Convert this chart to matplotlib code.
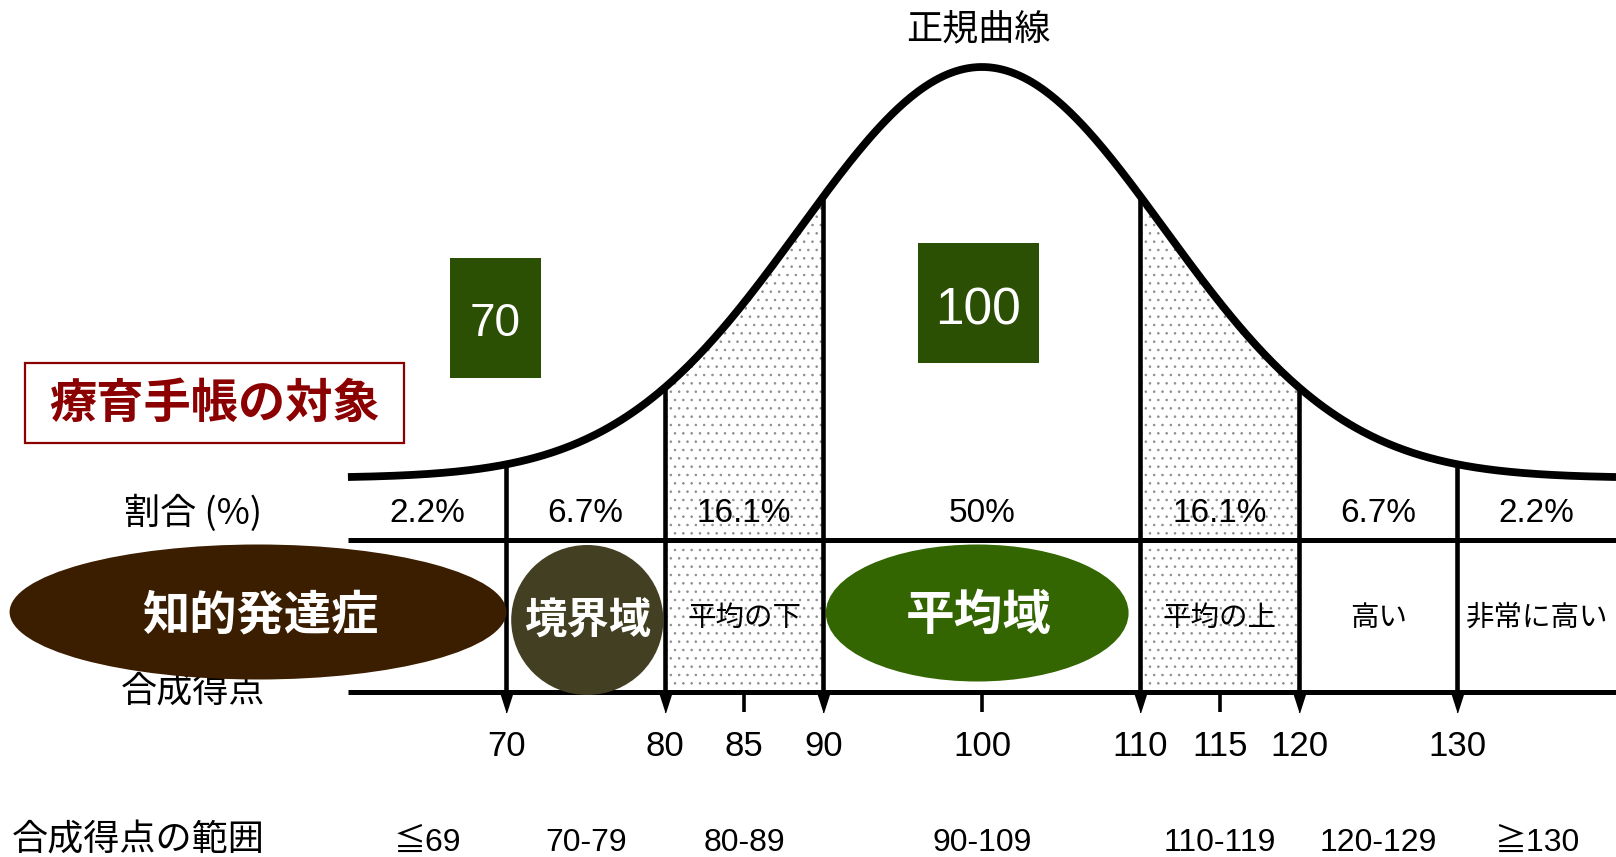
import numpy as np
import matplotlib
matplotlib.use("Agg")
import matplotlib.pyplot as plt
from matplotlib.patches import Ellipse, Rectangle

plt.rcParams['font.family'] = ['Noto Sans CJK JP', 'DejaVu Sans']
plt.rcParams['hatch.linewidth'] = 0.6

JP = ['Noto Sans CJK JP', 'DejaVu Sans']
NUM = ['Liberation Sans', 'Noto Sans CJK JP', 'DejaVu Sans']

# composite score scale
cut_scores = [70, 80, 90, 110, 120, 130]
minor_ticks = [85, 100, 115]
tick_scores = [70, 80, 85, 90, 100, 110, 115, 120, 130]

# bands between the cut scores
band_centers = [65, 75, 85, 100, 115, 125, 135]
percent_labels = ['2.2%', '6.7%', '16.1%', '50%', '16.1%', '6.7%', '2.2%']
class_labels = ['', '', '平均の下', '', '平均の上', '高い', '非常に高い']
range_labels = ['≦69', '70-79', '80-89', '90-109', '110-119', '120-129', '≧130']
stippled_bands = [(80, 90), (110, 120)]

# drawn normal curve
MEAN = 100
SD = 11.5
SCORE_MIN, SCORE_MAX = 60, 140

# vertical layout (rows, top to bottom)
CURVE_BASE, CURVE_PEAK = 478, 67
ROW_TOP = 540
ROW_BOTTOM = 692


def curve_y(x):
    return CURVE_BASE - (CURVE_BASE - CURVE_PEAK) * np.exp(-(x - MEAN) ** 2 / (2 * SD ** 2))


fig = plt.figure(figsize=(16.16, 8.57), dpi=100)
ax = fig.add_axes([0, 0, 1, 1])
ax.set_xlim(38.05, 140.0)
ax.set_ylim(857, 0)
ax.axis('off')

xs = np.linspace(SCORE_MIN, SCORE_MAX, 600)
ax.plot(xs, curve_y(xs), color='black', lw=5.6, solid_capstyle='butt', zorder=4)

# dotted shading under the curve
for lo, hi in stippled_bands:
    xb = np.linspace(lo, hi, 200)
    ax.fill_between(xb, curve_y(xb), ROW_BOTTOM, facecolor='none',
                    edgecolor='#8c8c8c', hatch='..', linewidth=0, zorder=1)

# table rows
ax.hlines([ROW_TOP, ROW_BOTTOM], SCORE_MIN, SCORE_MAX, color='black', lw=3.6, zorder=3)

# cut lines with arrow heads
ax.vlines(cut_scores, curve_y(np.array(cut_scores)), ROW_BOTTOM + 4, color='black', lw=3.3, zorder=3)
arrow = [(-0.32, 0.5), (0.32, 0.5), (0.0, -0.5)]
ax.plot(cut_scores, [ROW_BOTTOM + 10] * len(cut_scores), ls='none', marker=arrow,
        markersize=15, color='black', zorder=3)
ax.vlines(minor_ticks, ROW_BOTTOM, ROW_BOTTOM + 20, color='black', lw=2.6, zorder=3)

for s in tick_scores:
    ax.text(s, 746, str(s), ha='center', va='center', fontsize=25, family=NUM)

for c, p in zip(band_centers, percent_labels):
    ax.text(c, 514, p, ha='center', va='center', fontsize=24, family=NUM)

for c, lab in zip(band_centers, class_labels):
    if lab:
        ax.text(c, 618, lab, ha='center', va='center', fontsize=20.5, family=JP)

for c, lab in zip(band_centers, range_labels):
    ax.text(c, 843, lab, ha='center', va='center', fontsize=23, family=NUM)

ax.text(MEAN - 0.2, 29, '正規曲線', ha='center', va='center', fontsize=26, family=JP)
ax.text(50.2, 513, '割合 (%)', ha='center', va='center', fontsize=26, family=JP)
ax.text(50.2, 692, '合成得点', ha='center', va='center', fontsize=26, family=JP, zorder=2)
ax.text(38.8, 840, '合成得点の範囲', ha='left', va='center', fontsize=26, family=JP)

# green score boxes
ax.add_patch(Rectangle((66.43, 258), 5.74, 120, facecolor='#2c5003', edgecolor='none', zorder=5))
ax.text(69.3, 324, '70', ha='center', va='center', fontsize=33, color='white', family=NUM, zorder=6)
ax.add_patch(Rectangle((95.95, 243), 7.64, 120, facecolor='#2c5003', edgecolor='none', zorder=5))
ax.text(99.75, 311, '100', ha='center', va='center', fontsize=37, color='white', family=NUM, zorder=6)

# handbook target label
ax.add_patch(Rectangle((39.63, 363), 23.9, 80, facecolor='white', edgecolor='#8b0000', lw=1.6, zorder=5))
ax.text(51.6, 404, '療育手帳の対象', ha='center', va='center', fontsize=34,
        fontweight='bold', color='#8b0000', family=JP, zorder=6)

# category ellipses
ax.add_patch(Ellipse((54.33, 612), 31.35, 135, facecolor='#3b1e00', edgecolor='none', zorder=7))
ax.text(54.5, 615, '知的発達症', ha='center', va='center', fontsize=34,
        fontweight='bold', color='white', family=JP, zorder=8)
ax.add_patch(Ellipse((75.1, 620), 9.6, 150, facecolor='#433f22', edgecolor='none', zorder=7))
ax.text(75.1, 622, '境界域', ha='center', va='center', fontsize=30.5,
        fontweight='bold', color='white', family=JP, zorder=8)
ax.add_patch(Ellipse((99.7, 613), 19.1, 137, facecolor='#336600', edgecolor='none', zorder=7))
ax.text(99.8, 615, '平均域', ha='center', va='center', fontsize=35,
        fontweight='bold', color='white', family=JP, zorder=8)

fig.savefig('out.png', dpi=100, facecolor='white')
